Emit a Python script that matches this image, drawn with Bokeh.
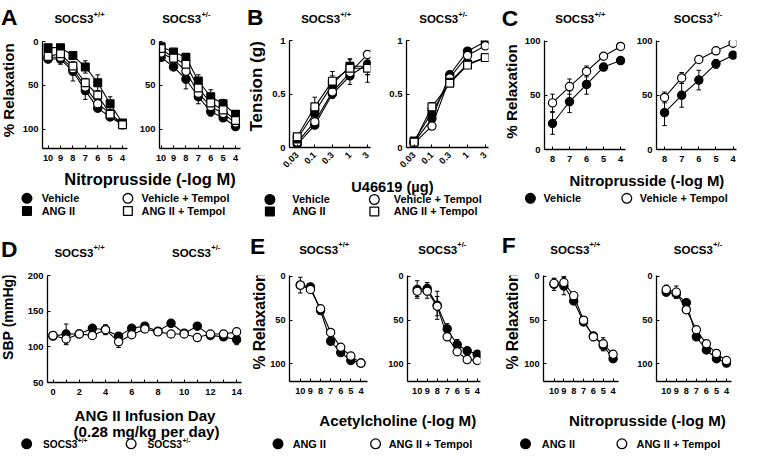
import math
from bokeh.plotting import figure
from bokeh.layouts import row, column
from bokeh.models import Range1d, FixedTicker
from bokeh.core.properties import value
from bokeh.embed import file_html
from bokeh.resources import INLINE

# ---------------- data ----------------
LOGM_X = [10, 9, 8, 7, 6, 5, 4]          # -log M (nitroprusside / acetylcholine)

# A: Nitroprusside, % relaxation
A_WT_VEH = [20, 20, 34, 56, 76, 86, 95]
A_WT_VEH_ERR = [3, 6, 11, 10, 4, 4, 2]
A_WT_ANG = [7, 7, 16, 29, 47, 71, 93]
A_WT_ANG_ERR = [2, 2, 3, 7, 9, 8, 2]
A_WT_VEHT = [18, 18, 31, 52, 71, 82, 94]
A_WT_VEHT_ERR = [3, 4, 5, 5, 4, 3, 2]
A_WT_ANGT = [17, 14, 28, 47, 61, 83, 95]
A_WT_ANGT_ERR = [3, 3, 4, 5, 4, 3, 2]

A_KO_VEH = [18, 29, 43, 63, 80, 87, 97]
A_KO_VEH_ERR = [3, 4, 11, 8, 5, 3, 2]
A_KO_ANG = [6, 12, 18, 45, 63, 71, 83]
A_KO_ANG_ERR = [2, 3, 4, 7, 8, 5, 3]
A_KO_VEHT = [13, 20, 34, 59, 74, 82, 93]
A_KO_VEHT_ERR = [3, 4, 6, 6, 4, 3, 2]
A_KO_ANGT = [8, 19, 26, 53, 70, 78, 90]
A_KO_ANGT_ERR = [2, 3, 4, 5, 4, 3, 2]

# B: U46619, tension (g)
U_LABELS = ["0.03", "0.1", "0.3", "1", "3"]
B_WT_VEH = [0.03, 0.21, 0.50, 0.67, 0.78]
B_WT_VEH_ERR = [0.02, 0.03, 0.04, 0.08, 0.10]
B_WT_ANG = [0.08, 0.33, 0.59, 0.76, 0.76]
B_WT_ANG_ERR = [0.02, 0.05, 0.08, 0.06, 0.08]
B_WT_VEHT = [0.05, 0.24, 0.52, 0.70, 0.87]
B_WT_VEHT_ERR = [0.02, 0.03, 0.04, 0.05, 0.03]
B_WT_ANGT = [0.10, 0.38, 0.62, 0.74, 0.74]
B_WT_ANGT_ERR = [0.02, 0.09, 0.09, 0.09, 0.13]

B_KO_VEH = [0.05, 0.27, 0.68, 0.90, 0.99]
B_KO_VEH_ERR = [0.02, 0.04, 0.03, 0.03, 0.02]
B_KO_ANG = [0.06, 0.33, 0.61, 0.78, 0.84]
B_KO_ANG_ERR = [0.02, 0.04, 0.03, 0.03, 0.02]
B_KO_VEHT = [0.04, 0.20, 0.65, 0.86, 0.95]
B_KO_VEHT_ERR = [0.02, 0.03, 0.03, 0.03, 0.02]
B_KO_ANGT = [0.05, 0.38, 0.60, 0.77, 0.84]
B_KO_ANGT_ERR = [0.02, 0.04, 0.03, 0.03, 0.02]

# C: Nitroprusside, % relaxation (vehicle vs tempol)
C_X = [8, 7, 6, 5, 4]
C_WT_VEH = [24, 44, 60, 76, 82]
C_WT_VEH_ERR = [10, 10, 9, 3, 2]
C_WT_VEHT = [43, 58, 72, 86, 95]
C_WT_VEHT_ERR = [8, 7, 5, 2, 2]
C_KO_VEH = [34, 50, 64, 79, 87]
C_KO_VEH_ERR = [12, 11, 9, 4, 2]
C_KO_VEHT = [48, 66, 83, 91, 98]
C_KO_VEHT_ERR = [5, 5, 2, 2, 1]

# D: SBP during ANG II infusion
D_DAYS = list(range(15))
D_WT = [115, 118, 118, 126, 124, 115, 126, 129, 122, 133, 119, 129, 116, 114, 110]
D_WT_ERR = [3, 14, 3, 4, 6, 4, 3, 4, 3, 3, 3, 3, 3, 3, 7]
D_KO = [116, 111, 118, 116, 124, 107, 117, 125, 121, 118, 118, 113, 118, 118, 121]
D_KO_ERR = [3, 8, 3, 3, 7, 8, 3, 3, 3, 3, 3, 3, 3, 3, 3]

# E: Acetylcholine, % relaxation
E_WT_ANG = [10, 12, 39, 74, 87, 96, 99]
E_WT_ANG_ERR = [3, 3, 3, 4, 3, 2, 1]
E_WT_ANGT = [10, 15, 37, 64, 81, 91, 99]
E_WT_ANGT_ERR = [9, 3, 3, 3, 3, 2, 1]
E_KO_ANG = [15, 14, 33, 60, 78, 85, 89]
E_KO_ANG_ERR = [10, 7, 16, 6, 6, 3, 3]
E_KO_ANGT = [17, 17, 34, 69, 86, 95, 96]
E_KO_ANGT_ERR = [6, 8, 11, 4, 3, 2, 2]

# F: Nitroprusside, % relaxation
F_WT_ANG = [9, 11, 28, 52, 68, 79, 94]
F_WT_ANG_ERR = [7, 10, 3, 3, 3, 6, 2]
F_WT_ANGT = [8, 7, 22, 50, 69, 77, 89]
F_WT_ANGT_ERR = [5, 7, 3, 3, 3, 7, 3]
F_KO_ANG = [18, 20, 30, 69, 84, 94, 99]
F_KO_ANG_ERR = [4, 5, 3, 3, 3, 3, 2]
F_KO_ANGT = [15, 18, 38, 61, 77, 88, 96]
F_KO_ANGT_ERR = [5, 7, 3, 3, 3, 4, 2]

# ---------------- layout helpers ----------------
W, H = 743, 451
RW, RH = 759, 467
FS = (W / RW + H / RH) / 2
FONT = "Liberation Sans"


def SX(x):
    return int(round(x * W / RW))


def SY(y):
    return int(round(y * H / RH))


def fs(px):
    return f"{px * FS:.1f}px"


def strip(x0, x1, y0, y1):
    p = figure(width=SX(x1) - SX(x0), height=SY(y1) - SY(y0),
               x_range=Range1d(x0, x1), y_range=Range1d(y1, y0),
               x_axis_type=None, y_axis_type=None, toolbar_location=None,
               output_backend="svg", min_border=0, outline_line_color=None,
               title=None)
    p.grid.visible = False
    return p


def txt(p, x, y, s, size, align="left", baseline="alphabetic", angle=0.0):
    p.text(x=[x], y=[y], text=[s], text_font=value(FONT), text_font_style="bold",
           text_font_size=fs(size), text_align=align, text_baseline=baseline,
           angle=angle, text_color="black")


def socs(p, x, y, sup, size, baseline="alphabetic"):
    txt(p, x, y, "SOCS3", size, baseline=baseline)
    txt(p, x + 3.39 * size, y - 0.42 * size, sup, size * 0.66, baseline=baseline)


def swatch(p, x, y, marker, filled, size=10):
    p.scatter(x=[x], y=[y], marker=marker, size=size * FS,
              fill_color="black" if filled else "white",
              line_color="black", line_width=1.3)


def panel(x0, x1, y0, y1, fx0, fx1, fy0, fy1, xr, yr, xticks, yticks,
          xover=None, yover=None, xorient=None, ylab=9.8):
    p = figure(width=SX(x1) - SX(x0), height=SY(y1) - SY(y0),
               x_range=Range1d(*xr), y_range=Range1d(*yr),
               toolbar_location=None, output_backend="svg", title=None,
               min_border_left=SX(fx0) - SX(x0), min_border_right=SX(x1) - SX(fx1),
               min_border_top=SY(fy0) - SY(y0), min_border_bottom=SY(y1) - SY(fy1),
               outline_line_color=None)
    p.grid.visible = False
    p.xaxis.ticker = FixedTicker(ticks=xticks)
    p.yaxis.ticker = FixedTicker(ticks=yticks)
    if xover:
        p.xaxis.major_label_overrides = xover
    if yover:
        p.yaxis.major_label_overrides = yover
    if xorient is not None:
        p.xaxis.major_label_orientation = xorient
    for ax in (p.xaxis[0], p.yaxis[0]):
        ax.axis_line_color = "black"
        ax.axis_line_width = 1.3
        ax.major_tick_in = 3
        ax.major_tick_out = 0
        ax.major_tick_line_color = "black"
        ax.minor_tick_line_color = None
        ax.major_label_text_font = FONT
        ax.major_label_text_font_style = "bold"
        ax.major_label_text_color = "black"
    p.xaxis.major_label_text_font_size = fs(9.5)
    p.yaxis.major_label_text_font_size = fs(ylab)
    p.xaxis.major_label_standoff = 6
    p.yaxis.major_label_standoff = 4
    return p


def draw(p, xs, series, msize=8.5):
    # series: list of (ys, errs, marker, filled)
    for ys, errs, marker, filled in series:
        lo = [y - e for y, e in zip(ys, errs)]
        hi = [y + e for y, e in zip(ys, errs)]
        p.segment(x0=xs, y0=lo, x1=xs, y1=hi, line_color="black", line_width=1)
        p.scatter(x=list(xs) + list(xs), y=lo + hi, marker="dash", size=4.5,
                  line_color="black", line_width=1)
    for ys, errs, marker, filled in series:
        p.line(x=xs, y=ys, line_color="black", line_width=1.1)
    for ys, errs, marker, filled in series:
        p.scatter(x=xs, y=ys, marker=marker,
                  size=(msize - 0.5 if marker == "square" else msize) * FS,
                  fill_color="black" if filled else "white",
                  line_color="black", line_width=1.2)


RELAX_T = [0, 50, 100]

# ================= Row 1 =================
# ---- A ----
hA = strip(0, 250, 0, 34)
txt(hA, 0.5, 17.5, "A", 23.5)
socs(hA, 55, 19, "+/+", 11.8)
socs(hA, 165, 19, "+/-", 11.8)

yA = strip(0, 18, 34, 172)
txt(yA, 7.5, 97, "% Relaxation", 15.5, align="center", baseline="middle", angle=math.pi / 2)

A1 = panel(18, 132, 34, 172, 43.3, 130, 42.3, 153.3, (10.45, 3.6), (122, 0), LOGM_X, RELAX_T)
draw(A1, LOGM_X, [(A_WT_VEH, A_WT_VEH_ERR, "circle", True),
                  (A_WT_VEHT, A_WT_VEHT_ERR, "circle", False),
                  (A_WT_ANG, A_WT_ANG_ERR, "square", True),
                  (A_WT_ANGT, A_WT_ANGT_ERR, "square", False)])
A2 = panel(132, 250, 34, 172, 162.3, 245, 42.3, 153.3, (10.13, 3.6), (122, 0), LOGM_X, RELAX_T)
draw(A2, LOGM_X, [(A_KO_VEH, A_KO_VEH_ERR, "circle", True),
                  (A_KO_VEHT, A_KO_VEHT_ERR, "circle", False),
                  (A_KO_ANG, A_KO_ANG_ERR, "square", True),
                  (A_KO_ANGT, A_KO_ANGT_ERR, "square", False)])

fA = strip(0, 250, 172, 230)
txt(fA, 152.5, 185, "Nitroprusside (-log M)", 17, align="center")
swatch(fA, 27, 205, "circle", True)
txt(fA, 42, 205, "Vehicle", 11.2, baseline="middle")
swatch(fA, 130, 205, "circle", False)
txt(fA, 144, 205, "Vehicle + Tempol", 11.2, baseline="middle")
swatch(fA, 27, 218, "square", True, 9)
txt(fA, 42, 218, "ANG II", 11.2, baseline="middle")
swatch(fA, 130, 218, "square", False, 9)
txt(fA, 144, 218, "ANG II + Tempol", 11.2, baseline="middle")

blockA = column(hA, row(yA, A1, A2), fA)

# ---- B ----
hB = strip(250, 500, 0, 34)
txt(hB, 251.5, 17.5, "B", 23.5)
socs(hB, 307, 19.5, "+/+", 11.8)
socs(hB, 428, 19.5, "+/-", 11.8)

yB = strip(250, 272, 34, 181)
txt(yB, 262, 97, "Tension (g)", 17.5, align="center", baseline="middle", angle=math.pi / 2)

U_POS = list(range(len(U_LABELS)))
U_OVR = {i: lab for i, lab in zip(U_POS, U_LABELS)}
B_YT = [0, 0.5, 1]
B_YOVR = {0: "0", 0.5: "0.5", 1: "1"}
B1 = panel(272, 386, 34, 181, 295, 378, 41.7, 151.7, (-0.44, 4.17), (0, 1), U_POS, B_YT,
           xover=U_OVR, yover=B_YOVR, xorient=math.pi / 4)
draw(B1, U_POS, [(B_WT_VEH, B_WT_VEH_ERR, "circle", True),
                 (B_WT_VEHT, B_WT_VEHT_ERR, "circle", False),
                 (B_WT_ANG, B_WT_ANG_ERR, "square", True),
                 (B_WT_ANGT, B_WT_ANGT_ERR, "square", False)])
B2 = panel(386, 500, 34, 181, 415, 498.3, 41.7, 151.7, (-0.43, 4.18), (0, 1), U_POS, B_YT,
           xover=U_OVR, yover=B_YOVR, xorient=math.pi / 4)
draw(B2, U_POS, [(B_KO_VEH, B_KO_VEH_ERR, "circle", True),
                 (B_KO_VEHT, B_KO_VEHT_ERR, "circle", False),
                 (B_KO_ANG, B_KO_ANG_ERR, "square", True),
                 (B_KO_ANGT, B_KO_ANGT_ERR, "square", False)])

fB = strip(250, 500, 181, 230)
txt(fB, 400.5, 193.3, "U46619 (µg)", 15, align="center")
swatch(fB, 275, 206, "circle", True)
txt(fB, 298, 206, "Vehicle", 11.2, baseline="middle")
swatch(fB, 382, 206, "circle", False)
txt(fB, 402, 206, "Vehicle + Tempol", 11.2, baseline="middle")
swatch(fB, 275, 218.5, "square", True, 9)
txt(fB, 298, 218.5, "ANG II", 11.2, baseline="middle")
swatch(fB, 382, 218.5, "square", False, 9)
txt(fB, 402, 218.5, "ANG II + Tempol", 11.2, baseline="middle")

blockB = column(hB, row(yB, B1, B2), fB)

# ---- C ----
hC = strip(500, 759, 0, 34)
txt(hC, 512.5, 18, "C", 23.5)
socs(hC, 567, 19.5, "+/+", 11.8)
socs(hC, 688, 19.5, "+/-", 11.8)

yC = strip(500, 532, 34, 171)
txt(yC, 521.7, 98, "% Relaxation", 15.6, align="center", baseline="middle", angle=math.pi / 2)

C1 = panel(532, 643, 34, 171, 555, 638.3, 41.7, 154.3, (8.47, 3.71), (0, 100.5), C_X, RELAX_T)
draw(C1, C_X, [(C_WT_VEH, C_WT_VEH_ERR, "circle", True),
               (C_WT_VEHT, C_WT_VEHT_ERR, "circle", False)])
C2 = panel(643, 759, 34, 171, 670, 751.7, 41.7, 154.3, (8.47, 3.8), (0, 100.5), C_X, RELAX_T)
draw(C2, C_X, [(C_KO_VEH, C_KO_VEH_ERR, "circle", True),
               (C_KO_VEHT, C_KO_VEHT_ERR, "circle", False)])

fC = strip(500, 759, 171, 230)
txt(fC, 660.5, 186.7, "Nitroprusside (-log M)", 15.3, align="center")
swatch(fC, 541.7, 205, "circle", True)
txt(fC, 555, 205, "Vehicle", 11.2, baseline="middle")
swatch(fC, 640, 205, "circle", False)
txt(fC, 653.3, 205, "Vehicle + Tempol", 11.2, baseline="middle")

blockC = column(hC, row(yC, C1, C2), fC)

# ================= Row 2 =================
# ---- D ----
hD = strip(0, 250, 230, 272)
txt(hD, 0.5, 257.5, "D", 23.5)
socs(hD, 55, 261, "+/+", 11.8)
socs(hD, 175, 261, "+/-", 11.8)

yD = strip(0, 20, 272, 414)
txt(yD, 7.5, 327, "SBP (mmHg)", 14.5, align="center", baseline="middle", angle=math.pi / 2)

D_XOVR = {d: (str(d) if d % 2 == 0 else "") for d in D_DAYS}
D1 = panel(20, 250, 272, 414, 47.7, 246.7, 284.3, 395.7, (-0.42, 14.37), (50, 200),
           D_DAYS, [50, 100, 150, 200], xover=D_XOVR)
draw(D1, D_DAYS, [(D_WT, D_WT_ERR, "circle", True),
                  (D_KO, D_KO_ERR, "circle", False)])

fD = strip(0, 250, 414, 467)
txt(fD, 147.5, 430, "ANG II Infusion Day", 15.5, align="center")
txt(fD, 149, 446, "(0.28 mg/kg per day)", 15.5, align="center")
swatch(fD, 26.7, 459, "circle", True)
socs(fD, 43.3, 459.5, "+/+", 10.5, baseline="middle")
swatch(fD, 133.3, 459, "circle", False)
socs(fD, 150, 459.5, "+/-", 10.5, baseline="middle")

blockD = column(hD, row(yD, D1), fD)

# ---- E ----
hE = strip(250, 500, 230, 272)
txt(hE, 254.5, 254.5, "E", 23.5)
socs(hE, 305, 258, "+/+", 11.8)
socs(hE, 427, 258, "+/-", 11.8)

yE = strip(250, 273, 272, 414)
txt(yE, 264.5, 333, "% Relaxation", 16, align="center", baseline="middle", angle=math.pi / 2)

E1 = panel(273, 385, 272, 414, 295.7, 375, 285, 395, (11.07, 3.35), (120, -1), LOGM_X, RELAX_T, ylab=9.5)
draw(E1, LOGM_X, [(E_WT_ANG, E_WT_ANG_ERR, "circle", True),
                  (E_WT_ANGT, E_WT_ANGT_ERR, "circle", False)])
E2 = panel(385, 500, 272, 414, 415.7, 490.7, 285, 395, (10.97, 3.67), (120, -1), LOGM_X, RELAX_T, ylab=9.5)
draw(E2, LOGM_X, [(E_KO_ANG, E_KO_ANG_ERR, "circle", True),
                  (E_KO_ANGT, E_KO_ANGT_ERR, "circle", False)])

fE = strip(250, 500, 414, 467)
txt(fE, 406, 435, "Acetylcholine (-log M)", 15.5, align="center")
swatch(fE, 283.3, 459, "circle", True)
txt(fE, 298.3, 459, "ANG II", 11.2, baseline="middle")
swatch(fE, 383.3, 459, "circle", False)
txt(fE, 396.7, 459, "ANG II + Tempol", 11.2, baseline="middle")

blockE = column(hE, row(yE, E1, E2), fE)

# ---- F ----
hF = strip(500, 759, 230, 272)
txt(hF, 512.5, 253.5, "F", 23.5)
socs(hF, 562, 258, "+/+", 11.8)
socs(hF, 688, 258, "+/-", 11.8)

yF = strip(500, 532, 272, 414)
txt(yF, 522.5, 333, "% Relaxation", 16, align="center", baseline="middle", angle=math.pi / 2)

F1 = panel(532, 641, 272, 414, 553.3, 631.7, 285, 395, (11.07, 3.45), (120, -1), LOGM_X, RELAX_T, ylab=9.5)
draw(F1, LOGM_X, [(F_WT_ANG, F_WT_ANG_ERR, "circle", True),
                  (F_WT_ANGT, F_WT_ANGT_ERR, "circle", False)])
F2 = panel(641, 759, 272, 414, 670, 746.7, 285, 395, (10.97, 3.5), (120, -1), LOGM_X, RELAX_T, ylab=9.5)
draw(F2, LOGM_X, [(F_KO_ANG, F_KO_ANG_ERR, "circle", True),
                  (F_KO_ANGT, F_KO_ANGT_ERR, "circle", False)])

fF = strip(500, 759, 414, 467)
txt(fF, 661, 435, "Nitroprusside (-log M)", 15.5, align="center")
swatch(fF, 536.7, 459, "circle", True)
txt(fF, 553.3, 459, "ANG II", 11.2, baseline="middle")
swatch(fF, 635, 459, "circle", False)
txt(fF, 650, 459, "ANG II + Tempol", 11.2, baseline="middle")

blockF = column(hF, row(yF, F1, F2), fF)

page = column(row(blockA, blockB, blockC), row(blockD, blockE, blockF))

open("out.html", "w").write(file_html(page, INLINE))
